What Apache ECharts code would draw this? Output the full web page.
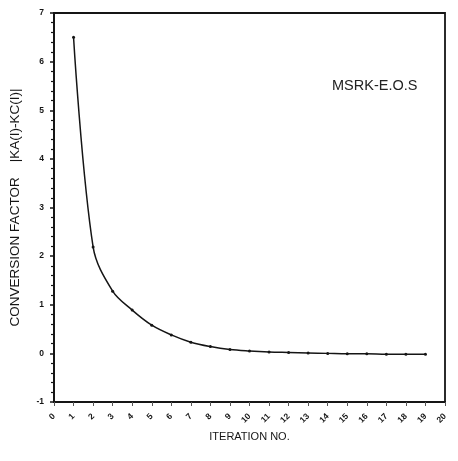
<!DOCTYPE html>
<html>
<head>
<meta charset="utf-8">
<script src="https://cdn.jsdelivr.net/npm/echarts@6/dist/echarts.min.js"></script>
<style>html,body{margin:0;padding:0;background:#fff;}#c{width:458px;height:461px;}</style>
</head>
<body>
<div id="c"></div>
<script>
// Data
var iterations = [1, 2, 3, 4, 5, 6, 7, 8, 9, 10, 11, 12, 13, 14, 15, 16, 17, 18, 19];
var conversionFactor = [6.5, 2.19, 1.28, 0.89, 0.58, 0.38, 0.23, 0.14, 0.08, 0.05, 0.03, 0.02, 0.01, 0.0, -0.01, -0.01, -0.02, -0.02, -0.02];
var titleText = 'MSRK-E.O.S';
var xName = 'ITERATION NO.';
var yName = 'CONVERSION FACTOR    |KA(I)-KC(I)|';

var pairs = iterations.map(function (x, i) { return [x, conversionFactor[i]]; });
var ink = '#151515';

var chart = echarts.init(document.getElementById('c'));
chart.setOption({
  backgroundColor: '#ffffff',
  animation: false,
  title: {
    text: titleText,
    left: 327, top: 73,
    textStyle: { fontFamily: 'Liberation Sans', fontSize: 14.5, fontWeight: 'normal', color: '#222' }
  },
  grid: {
    left: 50, right: 13, top: 13, bottom: 59,
    show: true, borderColor: ink, borderWidth: 1.8, backgroundColor: 'transparent'
  },
  xAxis: {
    type: 'value', min: 0, max: 20, interval: 1,
    name: xName, nameLocation: 'middle', nameGap: 29,
    nameTextStyle: { fontFamily: 'Liberation Sans', fontSize: 11, color: ink },
    axisLine: { show: true, onZero: false, lineStyle: { color: ink, width: 2 } },
    axisTick: { show: true, length: 4, inside: false, lineStyle: { color: '#555', width: 1 } },
    axisLabel: { rotate: 45, fontSize: 8.5, fontWeight: 'bold', color: ink, margin: 13, fontFamily: 'Liberation Sans' },
    splitLine: { show: false }
  },
  yAxis: {
    type: 'value', min: -1, max: 7, interval: 1,
    name: yName, nameLocation: 'middle', nameGap: 32,
    nameTextStyle: { fontFamily: 'Liberation Sans', fontSize: 13.5, color: ink },
    axisLine: { show: true, onZero: false, lineStyle: { color: ink, width: 2 } },
    axisTick: { show: true, length: 4, inside: false, lineStyle: { color: ink, width: 1.5 } },
    minorTick: { show: true, splitNumber: 5, length: 3, lineStyle: { color: ink, width: 1.2 } },
    axisLabel: { fontSize: 8.5, fontWeight: 'bold', color: ink, margin: 10, fontFamily: 'Liberation Sans' },
    splitLine: { show: false },
    minorSplitLine: { show: false }
  },
  series: [{
    type: 'line',
    data: pairs,
    smooth: 0.35,
    symbol: 'circle',
    symbolSize: 3,
    itemStyle: { color: ink },
    lineStyle: { color: ink, width: 1.5 }
  }]
});
</script>
</body>
</html>
